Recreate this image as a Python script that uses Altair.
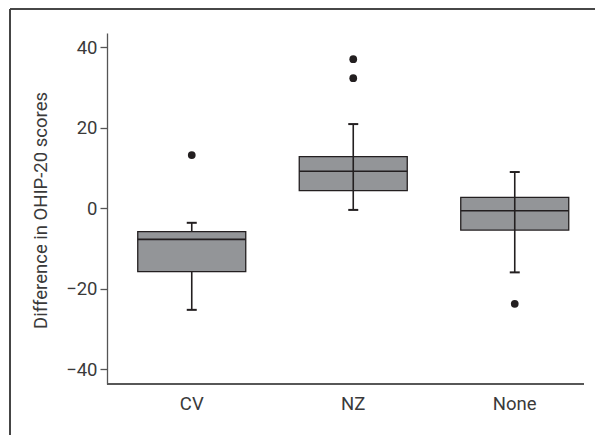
import altair as alt
import pandas as pd

groups = ["CV", "NZ", "None"]
whisker_low = [-25.2, -0.4, -15.9]
q1 = [-15.7, 4.4, -5.4]
median = [-7.7, 9.2, -0.6]
q3 = [-5.8, 12.8, 2.7]
whisker_high = [-3.6, 20.9, 9.0]
line_through_box = [False, True, True]

outlier_groups = ["CV", "NZ", "NZ", "None"]
outlier_values = [13.2, 37.0, 32.3, -23.7]

stats = pd.DataFrame({
    "group": groups, "lo": whisker_low, "q1": q1, "med": median,
    "q3": q3, "hi": whisker_high, "through": line_through_box,
})
inner = stats[stats["through"]]
out = pd.DataFrame({"group": outlier_groups, "value": outlier_values})

W, H = 477, 351
DARK = "#231f20"
AX = "#555555"

xscale = alt.Scale(domain=groups, range=[4, 488.5], paddingInner=0, paddingOuter=0)
x = alt.X("group:N", scale=xscale, sort=groups,
          axis=alt.Axis(title=None, domain=False, ticks=False, tickSize=0,
                        labelAngle=0, labelPadding=10, labelFontSize=18.5,
                        labelFont="Roboto", labelColor="#3a3a3a"))
yscale = alt.Scale(domain=[-43.6, 43.5], nice=False, zero=False)
yaxis = alt.Axis(title="Difference in OHIP-20 scores", values=[-40, -20, 0, 20, 40],
                 grid=False, domainColor=AX, domainWidth=1.3, tickColor=AX,
                 tickWidth=1.3, tickSize=7, labelPadding=3, labelFontSize=18.5,
                 labelFont="Roboto", labelColor="#3a3a3a", titleFont="Roboto",
                 titleFontSize=18.5, titleFontWeight="normal", titleColor="#3a3a3a",
                 titleX=-61, titleY=177, titleBaseline="alphabetic", titleAngle=270,
                 titleAlign="center")

base = alt.Chart(stats)

upper_whisker = base.mark_rule(color=DARK, strokeWidth=1.6).encode(
    x=x, y=alt.Y("q3:Q", scale=yscale, axis=yaxis), y2="hi:Q")
lower_whisker = base.mark_rule(color=DARK, strokeWidth=1.6).encode(
    x=x, y=alt.Y("lo:Q", scale=yscale), y2="q1:Q")
box = base.mark_bar(size=108, fill="#939598", stroke=DARK, strokeWidth=1.3).encode(
    x=x, y=alt.Y("q1:Q", scale=yscale), y2="q3:Q")
inner_line = alt.Chart(inner).mark_rule(color=DARK, strokeWidth=1.6).encode(
    x=x, y=alt.Y("q1:Q", scale=yscale), y2="q3:Q")
med_tick = base.mark_tick(size=108, thickness=1.6, color=DARK, opacity=1).encode(
    x=x, y=alt.Y("med:Q", scale=yscale))
cap_hi = base.mark_tick(size=10, thickness=2, color=DARK, opacity=1).encode(
    x=x, y=alt.Y("hi:Q", scale=yscale))
cap_lo = base.mark_tick(size=10, thickness=2, color=DARK, opacity=1).encode(
    x=x, y=alt.Y("lo:Q", scale=yscale))
dots = alt.Chart(out).mark_circle(size=60, color=DARK, opacity=1).encode(
    x=x, y=alt.Y("value:Q", scale=yscale))

x_axis_line = base.mark_rule(color=AX, strokeWidth=1.3).encode(
    x=alt.value(0), x2=alt.value(W), y=alt.value(H))
frame_top = base.mark_rule(color="#444444", strokeWidth=1.6).encode(
    x=alt.value(-97), x2=alt.value(500), y=alt.value(-24))
frame_left = base.mark_rule(color="#444444", strokeWidth=1.6).encode(
    x=alt.value(-97), y=alt.value(-24), y2=alt.value(H + 60))

chart = alt.layer(
    upper_whisker, lower_whisker, box, inner_line, med_tick, cap_hi, cap_lo,
    dots, x_axis_line, frame_top, frame_left
).properties(
    width=W, height=H,
    autosize=alt.AutoSizeParams(type="none"),
    padding={"left": 99, "top": 25, "right": 11, "bottom": 51},
).configure_view(stroke=None)

chart.save("out.html", embed_options={"renderer": "svg", "actions": False})
